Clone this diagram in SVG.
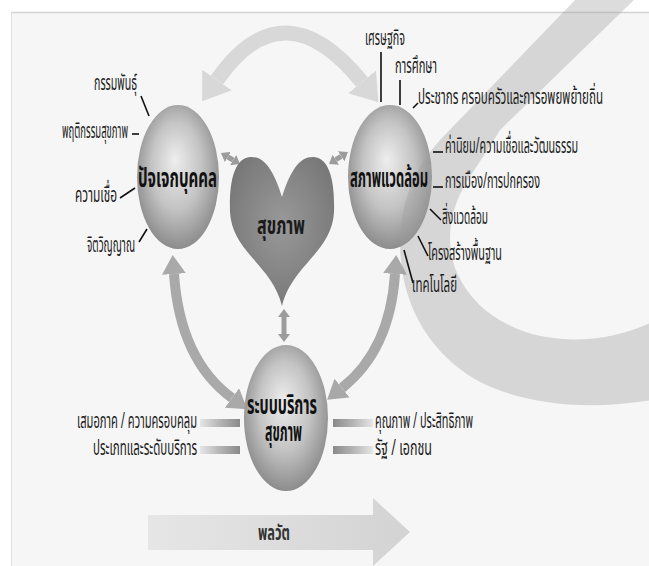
<svg xmlns="http://www.w3.org/2000/svg" width="649" height="566" viewBox="0 0 649 566">
  <style>
    .t { font-family: "Noto Sans Thai", "Noto Sans", "DejaVu Sans", sans-serif; font-size: 22px; fill: #1c1c1c; }
    .b { font-weight: bold; font-size: 27px; fill: #111; }
    .tick { stroke: #111; stroke-width: 1.6; fill: none; }
    .sphere { fill: url(#sphereGrad); }
  </style>
  <defs>
    <radialGradient id="sphereGrad" cx="50%" cy="45%" r="55%" fx="46%" fy="38%">
      <stop offset="0" stop-color="#eeeeee"/>
      <stop offset="0.55" stop-color="#c4c4c4"/>
      <stop offset="1" stop-color="#8c8c8c"/>
    </radialGradient>
    <radialGradient id="heartGrad" cx="50%" cy="45%" r="60%">
      <stop offset="0" stop-color="#999999"/>
      <stop offset="1" stop-color="#767676"/>
    </radialGradient>
    <linearGradient id="barL" x1="0" y1="0" x2="1" y2="0">
      <stop offset="0" stop-color="#e6e6e6"/>
      <stop offset="0.5" stop-color="#b4b4b4"/>
      <stop offset="1" stop-color="#8a8a8a"/>
    </linearGradient>
    <linearGradient id="barR" x1="1" y1="0" x2="0" y2="0">
      <stop offset="0" stop-color="#e6e6e6"/>
      <stop offset="0.5" stop-color="#b4b4b4"/>
      <stop offset="1" stop-color="#8a8a8a"/>
    </linearGradient>
    <linearGradient id="flowGrad" x1="0" y1="0" x2="1" y2="0">
      <stop offset="0" stop-color="#e6e6e6"/>
      <stop offset="1" stop-color="#d3d3d3"/>
    </linearGradient>
    <marker id="headTop" markerUnits="userSpaceOnUse" markerWidth="26" markerHeight="36" viewBox="0 0 26 36" refX="0" refY="18" orient="auto-start-reverse">
      <path d="M0,0 L26,18 L0,36 Z" fill="#d8d8d8"/>
    </marker>
    <marker id="headSide" markerUnits="userSpaceOnUse" markerWidth="19" markerHeight="24" viewBox="0 0 19 24" refX="0" refY="12" orient="auto-start-reverse">
      <path d="M0,0 L19,12 L0,24 Z" fill="#a9a9a9"/>
    </marker>
    <marker id="headSmall" markerUnits="userSpaceOnUse" markerWidth="8" markerHeight="12" viewBox="0 0 8 12" refX="0" refY="6" orient="auto-start-reverse">
      <path d="M0,0 L8,6 L0,12 Z" fill="#9c9c9c"/>
    </marker>
  </defs>

  <!-- page background and frame -->
  <rect x="0" y="0" width="649" height="566" fill="#ffffff"/>
  <rect x="11" y="12" width="640" height="556" fill="#f6f6f6"/>
  <line x1="11" y1="12.5" x2="649" y2="12.5" stroke="#d2d2d2" stroke-width="1.5"/>
  <line x1="11.5" y1="12" x2="11.5" y2="566" stroke="#e0e0e0" stroke-width="1"/>

  <!-- connectors -->
  <g id="connectors" fill="none">
    <path d="M217,80 Q283,-15 362,82" stroke="#d8d8d8" stroke-width="15" marker-start="url(#headTop)" marker-end="url(#headTop)"/>
    <path d="M174,274 Q180,360 232,398" stroke="#a9a9a9" stroke-width="10" marker-start="url(#headSide)" marker-end="url(#headSide)"/>
    <path d="M395,274 Q390,350 342,388" stroke="#a9a9a9" stroke-width="10" marker-start="url(#headSide)" marker-end="url(#headSide)"/>
    <line x1="227.9" y1="157" x2="233.1" y2="160" stroke="#9c9c9c" stroke-width="5" marker-start="url(#headSmall)" marker-end="url(#headSmall)"/>
    <line x1="341.2" y1="156.3" x2="335.8" y2="159.7" stroke="#9c9c9c" stroke-width="5" marker-start="url(#headSmall)" marker-end="url(#headSmall)"/>
    <line x1="284" y1="317" x2="284" y2="334" stroke="#9c9c9c" stroke-width="5" marker-start="url(#headSmall)" marker-end="url(#headSmall)"/>
  </g>

  <!-- spheres and heart -->
  <ellipse class="sphere" cx="178" cy="177" rx="41" ry="72"/>
  <ellipse class="sphere" cx="390" cy="177" rx="42" ry="72"/>
  <ellipse class="sphere" cx="286" cy="418" rx="42" ry="73"/>
  <path d="M282,197 C273,168 263,156 250,157 C235,158 229,180 230,212 C232,252 272,265 282,306 C292,265 332,252 334,212 C335,180 329,158 314,157 C301,156 291,168 282,197 Z" fill="url(#heartGrad)"/>

  <!-- wide sweeping band -->
  <path d="M577,-2 L440,140 C405,178 392,230 405,285 C415,325 440,360 480,382 C520,402 580,412 652,400 L652,322 C610,342 560,345 520,330 C490,318 470,300 458,275 C446,250 447,215 465,185 C475,168 488,150 500,130 L636,-2 Z" fill="#9e9e9e" fill-opacity="0.36"/>

  <!-- individual factors -->
  <g id="node-individual">
    <text class="t b" x="138" y="187" textLength="79" lengthAdjust="spacingAndGlyphs">ปัจเจกบุคคล</text>
    <text class="t" x="94" y="90" textLength="43" lengthAdjust="spacingAndGlyphs">กรรมพันธุ์</text>
    <line class="tick" x1="141" y1="96" x2="149" y2="116"/>
    <text class="t" x="62" y="138" textLength="66" lengthAdjust="spacingAndGlyphs">พฤติกรรมสุขภาพ</text>
    <line class="tick" x1="132" y1="134" x2="139" y2="134"/>
    <text class="t" x="75" y="202" textLength="42" lengthAdjust="spacingAndGlyphs">ความเชื่อ</text>
    <line class="tick" x1="120" y1="198" x2="135" y2="188"/>
    <text class="t" x="87" y="252" textLength="48" lengthAdjust="spacingAndGlyphs">จิตวิญญาณ</text>
    <line class="tick" x1="139" y1="242" x2="147" y2="229"/>
  </g>

  <!-- environment -->
  <g id="node-environment">
    <text class="t b" x="350" y="187" textLength="78" lengthAdjust="spacingAndGlyphs">สภาพแวดล้อม</text>
    <text class="t" x="365" y="45" textLength="40" lengthAdjust="spacingAndGlyphs">เศรษฐกิจ</text>
    <line class="tick" x1="381" y1="52" x2="381" y2="102"/>
    <text class="t" x="395" y="73" textLength="42" lengthAdjust="spacingAndGlyphs">การศึกษา</text>
    <line class="tick" x1="400" y1="80" x2="400" y2="105"/>
    <text class="t" x="418" y="104" textLength="185" lengthAdjust="spacingAndGlyphs">ประชากร ครอบครัวและการอพยพย้ายถิ่น</text>
    <line class="tick" x1="413" y1="108" x2="418" y2="103"/>
    <text class="t" x="445" y="153" textLength="133" lengthAdjust="spacingAndGlyphs">ค่านิยม/ความเชื่อและวัฒนธรรม</text>
    <line class="tick" x1="433" y1="152" x2="443" y2="152"/>
    <text class="t" x="445" y="188" textLength="95" lengthAdjust="spacingAndGlyphs">การเมือง/การปกครอง</text>
    <line class="tick" x1="433" y1="187" x2="443" y2="187"/>
    <text class="t" x="442" y="224" textLength="46" lengthAdjust="spacingAndGlyphs">สิ่งแวดล้อม</text>
    <line class="tick" x1="430" y1="209" x2="441" y2="220"/>
    <text class="t" x="428" y="260" textLength="74" lengthAdjust="spacingAndGlyphs">โครงสร้างพื้นฐาน</text>
    <line class="tick" x1="418" y1="236" x2="428" y2="256"/>
    <text class="t" x="412" y="292" textLength="45" lengthAdjust="spacingAndGlyphs">เทคโนโลยี</text>
    <line class="tick" x1="404" y1="250" x2="413" y2="283"/>
  </g>

  <!-- health -->
  <g id="node-health">
    <text class="t b" x="257" y="234" textLength="48" lengthAdjust="spacingAndGlyphs" style="font-size:24px;fill:#1a1a1a">สุขภาพ</text>
  </g>

  <!-- health service system -->
  <g id="node-service">
    <text class="t b" x="247" y="414" textLength="70" lengthAdjust="spacingAndGlyphs">ระบบบริการ</text>
    <text class="t b" x="265" y="441" textLength="37" lengthAdjust="spacingAndGlyphs">สุขภาพ</text>
    <rect x="200" y="419" width="40" height="8" fill="url(#barL)"/>
    <rect x="200" y="446" width="40" height="8" fill="url(#barL)"/>
    <rect x="333" y="419" width="40" height="8" fill="url(#barR)"/>
    <rect x="333" y="446" width="40" height="8" fill="url(#barR)"/>
    <text class="t" x="77" y="428" textLength="120" lengthAdjust="spacingAndGlyphs">เสมอภาค / ความครอบคลุม</text>
    <text class="t" x="93" y="455" textLength="104" lengthAdjust="spacingAndGlyphs">ประเภทและระดับบริการ</text>
    <text class="t" x="375" y="428" textLength="98" lengthAdjust="spacingAndGlyphs">คุณภาพ / ประสิทธิภาพ</text>
    <text class="t" x="375" y="455" textLength="57" lengthAdjust="spacingAndGlyphs">รัฐ / เอกชน</text>
  </g>

  <!-- dynamics arrow -->
  <g id="node-dynamics">
    <path d="M148,515 L373,515 L373,498 L410,532 L373,566 L373,550 L148,550 Z" fill="url(#flowGrad)"/>
    <text class="t" x="258" y="540" textLength="32" lengthAdjust="spacingAndGlyphs" style="font-size:22px;font-weight:bold;fill:#333">พลวัต</text>
  </g>
</svg>
